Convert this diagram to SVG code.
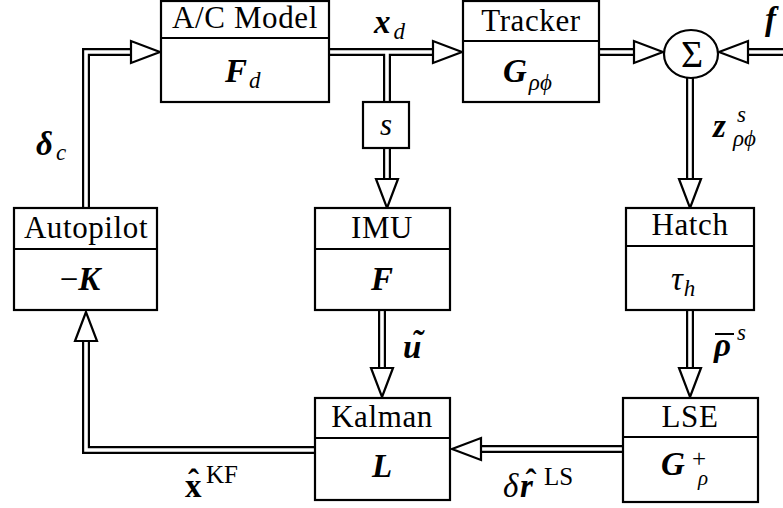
<svg xmlns="http://www.w3.org/2000/svg" width="783" height="508" viewBox="0 0 783 508" font-family="'Liberation Serif', 'Times New Roman', Tinos, 'DejaVu Serif', serif">
  <style>
    .box { fill: #fff; stroke: #000; stroke-width: 2.2; }
    .div { stroke: #000; stroke-width: 2.2; }
    .t { font-family: 'Liberation Serif', 'Times New Roman', Tinos, 'DejaVu Serif', serif; font-size: 31px; fill: #000; }
    .name { letter-spacing: 0.6px; }
    .c { text-anchor: middle; }
    .m { font-size: 33px; }
    .bi { font-weight: bold; font-style: italic; }
    .it { font-style: italic; }
    .bf { font-weight: bold; }
    .up { font-weight: normal; font-style: normal; }
    .sm { font-size: 23px; }
    .sup { font-size: 25px; }
    .wo { fill: none; stroke: #000; stroke-width: 8; stroke-linejoin: miter; }
    .wi { fill: none; stroke: #fff; stroke-width: 3.6; stroke-linejoin: miter; }
    .head { fill: #fff; stroke: #000; stroke-width: 2.2; stroke-linejoin: miter; }
  </style>
  <defs>
    <!-- open triangular arrowhead, tip at origin, pointing +x -->
    <path id="ah" class="head" d="M0,0 L-29,-11 L-29,11 Z"/>
  </defs>

  <!-- double-line connectors -->
  <g id="connectors">
    <g class="wo">
      <path d="M86,208 V52 H132"/>
      <path d="M329,52 H435"/>
      <path d="M387,52 V102"/>
      <path d="M387,148 V181"/>
      <path d="M599,52 H635"/>
      <path d="M783,52 H747"/>
      <path d="M690,78 V180"/>
      <path d="M690,310 V369"/>
      <path d="M382,310 V369"/>
      <path d="M623,449 H481"/>
      <path d="M315,450 H86 V340"/>
    </g>
    <g class="wi">
      <path d="M86,208 V52 H132"/>
      <path d="M329,52 H435"/>
      <path d="M387,52 V102"/>
      <path d="M387,148 V181"/>
      <path d="M599,52 H635"/>
      <path d="M783,52 H747"/>
      <path d="M690,78 V180"/>
      <path d="M690,310 V369"/>
      <path d="M382,310 V369"/>
      <path d="M623,449 H481"/>
      <path d="M315,450 H86 V340"/>
    </g>
    <use href="#ah" transform="translate(160,52)"/>
    <use href="#ah" transform="translate(462,52)"/>
    <use href="#ah" transform="translate(387,208) rotate(90)"/>
    <use href="#ah" transform="translate(663,52)"/>
    <use href="#ah" transform="translate(719,52) rotate(180)"/>
    <use href="#ah" transform="translate(690,208) rotate(90)"/>
    <use href="#ah" transform="translate(690,397) rotate(90)"/>
    <use href="#ah" transform="translate(382,397) rotate(90)"/>
    <use href="#ah" transform="translate(452,449) rotate(180)"/>
    <use href="#ah" transform="translate(86,312) rotate(-90)"/>
  </g>

  <!-- aircraft model -->
  <g id="ac-model">
    <rect class="box" x="161" y="1" width="168" height="101"/>
    <line class="div" x1="161" y1="38" x2="329" y2="38"/>
    <text class="t c name" x="245" y="28">A/C Model</text>
    <text class="t" x="225" y="82"><tspan class="bi m">F</tspan><tspan class="it sm" dx="2" dy="6">d</tspan></text>
  </g>

  <g id="tracker">
    <rect class="box" x="463" y="1" width="136" height="101"/>
    <line class="div" x1="463" y1="41" x2="599" y2="41"/>
    <text class="t c name" x="531" y="31">Tracker</text>
    <text class="t" x="503" y="82"><tspan class="bi m">G</tspan><tspan class="it sm" dx="2" dy="8">ρϕ</tspan></text>
  </g>

  <g id="sum">
    <ellipse cx="691" cy="54" rx="27" ry="24" fill="#fff" stroke="#000" stroke-width="2.2"/>
    <text class="t c" x="692" y="67" style="font-size:38px">Σ</text>
  </g>

  <g id="sampler">
    <rect class="box" x="363" y="102" width="46" height="46"/>
    <text class="t c it" x="386" y="135">s</text>
  </g>

  <g id="autopilot">
    <rect class="box" x="14" y="208" width="143" height="102"/>
    <line class="div" x1="14" y1="249" x2="157" y2="249"/>
    <text class="t c name" x="86" y="238">Autopilot</text>
    <text class="t c m" x="80" y="290">−<tspan class="bi">K</tspan></text>
  </g>

  <g id="imu">
    <rect class="box" x="315" y="208" width="135" height="102"/>
    <line class="div" x1="315" y1="249" x2="450" y2="249"/>
    <text class="t c name" x="382" y="238">IMU</text>
    <text class="t c bi m" x="382" y="290">F</text>
  </g>

  <g id="hatch">
    <rect class="box" x="626" y="208" width="128" height="102"/>
    <line class="div" x1="626" y1="246" x2="754" y2="246"/>
    <text class="t c name" x="690" y="235">Hatch</text>
    <text class="t" x="671" y="290"><tspan class="it m">τ</tspan><tspan class="it sm" dx="1" dy="6">h</tspan></text>
  </g>

  <g id="kalman">
    <rect class="box" x="315" y="398" width="135" height="102"/>
    <line class="div" x1="315" y1="438" x2="450" y2="438"/>
    <text class="t c name" x="382" y="427">Kalman</text>
    <text class="t c bi m" x="382" y="477">L</text>
  </g>

  <g id="lse">
    <rect class="box" x="623" y="398" width="135" height="104"/>
    <line class="div" x1="623" y1="437" x2="758" y2="437"/>
    <text class="t c name" x="690" y="427">LSE</text>
    <text class="t" x="661" y="475"><tspan class="bi m">G</tspan><tspan class="sup" x="692" y="467">+</tspan><tspan class="it" style="font-size:21px" x="698" y="485">ρ</tspan></text>
  </g>

  <!-- signal labels -->
  <g id="labels">
    <text class="t" x="374" y="33"><tspan class="bi m">x</tspan><tspan class="it sm" dx="3" dy="6">d</tspan></text>
    <text class="t" x="36" y="155"><tspan class="bi m">δ</tspan><tspan class="it sm" dx="3" dy="5">c</tspan></text>
    <text class="t bi m" x="765" y="30">f</text>
    <text class="t" x="713" y="137"><tspan class="bi m">z</tspan><tspan class="it sm" x="737" y="122">s</tspan><tspan class="it sm" x="733" y="146">ρϕ</tspan></text>
    <text class="t bi m" x="403" y="358">u<tspan class="bf" x="411.5" y="353">˜</tspan></text>
    <text class="t" x="714" y="356"><tspan class="bi m">ρ</tspan><tspan class="it sm" x="737" y="340">s</tspan></text>
    <line x1="715" y1="334" x2="734" y2="334" stroke="#000" stroke-width="2"/>
    <text class="t" x="185" y="497"><tspan class="bf m">x</tspan><tspan class="bf m" x="188" y="493">ˆ</tspan><tspan class="sup" x="206" y="483">KF</tspan></text>
    <text class="t" x="503" y="497"><tspan class="it m">δ</tspan><tspan class="bi m" x="520">r</tspan><tspan class="bf m" x="525.5" y="493">ˆ</tspan><tspan class="sup" x="544" y="485">LS</tspan></text>
  </g>
</svg>
